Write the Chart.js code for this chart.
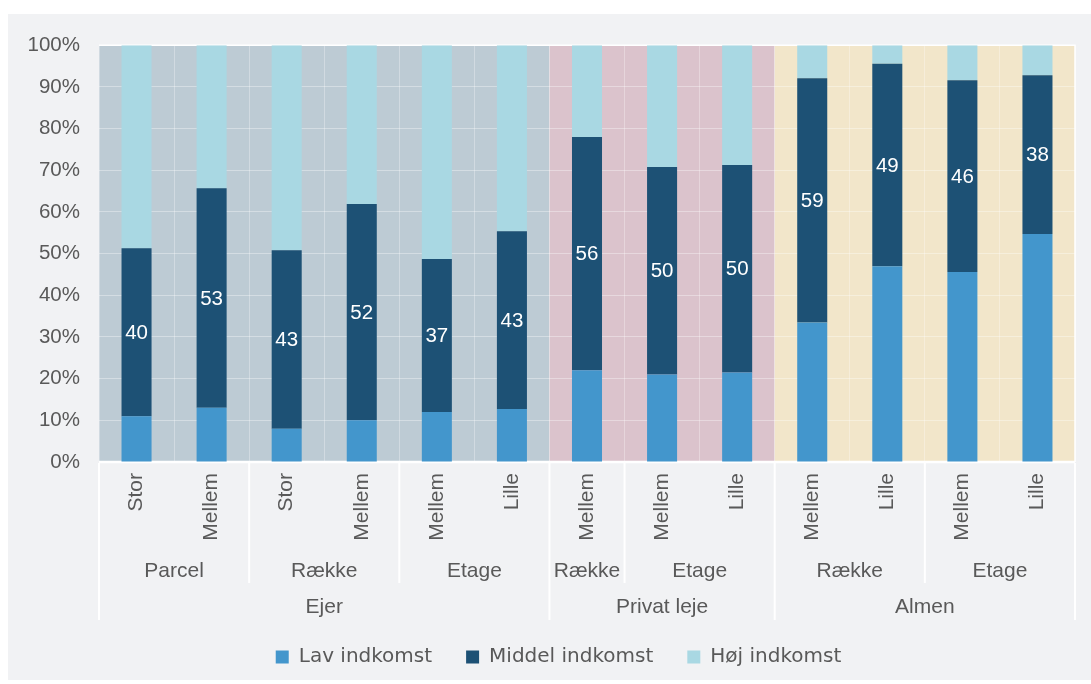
<!DOCTYPE html>
<html>
<head>
<meta charset="utf-8">
<script src="https://cdn.jsdelivr.net/npm/chart.js@4.4.0/dist/chart.umd.min.js"></script>
<style>
	html, body { margin: 0; padding: 0; background: #ffffff; }
	#panel { position: absolute; left: 8px; top: 14px; width: 1083px; height: 666px; background: #f1f2f4; }
</style>
</head>
<body>
<div id="panel"><canvas id="graficoIndkomst" width="1083" height="666"></canvas></div>
<script>
// Kategorier (nederste niveau) og grupper
const etiketter = ["Stor", "Mellem", "Stor", "Mellem", "Mellem", "Lille", "Mellem", "Mellem", "Lille", "Mellem", "Lille", "Mellem", "Lille"];
const boligtyper = ["Parcel", "Række", "Etage", "Række", "Etage", "Række", "Etage"];
const boligtypeAntal = [2, 2, 2, 1, 2, 2, 2];
const ejerformer = ["Ejer", "Privat leje", "Almen"];
const ejerformAntal = [6, 3, 4];

// Andele i procent
const lavIndkomst    = [11, 13, 8, 10, 12, 12.7, 22, 21, 21.5, 33.5, 47, 45.6, 54.7];
const middelIndkomst = [40.3, 52.7, 42.8, 51.9, 36.7, 42.7, 56, 49.8, 49.8, 58.6, 48.6, 46, 38.1];
const hojIndkomst    = [48.7, 34.3, 49.2, 38.1, 51.3, 44.6, 22, 29.2, 28.7, 7.9, 4.4, 8.4, 7.2];

const yTicks = [0, 10, 20, 30, 40, 50, 60, 70, 80, 90, 100];

const farveBaggrund = ["#bdcbd4", "#dbc3cc", "#f2e6ca"];
const tekstFarve = "#595959";
const skrift = "'Liberation Sans', Arial, sans-serif";

// Tegner farvede baggrundsfelter pr. ejerform
const baggrundPlugin = {
	id: "baggrund",
	afterLayout: function(chart){
		// forskyder legenden lidt mod højre, som i originalen
		chart.legend.left += 17;
		chart.legend.right += 17;
	},
	beforeDraw: function(chart){
		const ctx = chart.ctx;
		const ca = chart.chartArea;
		const bredde = (ca.right - ca.left) / etiketter.length;
		let start = 0;
		ejerformAntal.forEach((antal, i) => {
			ctx.fillStyle = farveBaggrund[i];
			ctx.fillRect(ca.left + start * bredde, ca.top, antal * bredde, ca.bottom - ca.top);
			start += antal;
		});
	},
	beforeDatasetsDraw: function(chart){
		const ctx = chart.ctx;
		const ca = chart.chartArea;
		ctx.save();
		ctx.strokeStyle = "#ffffff";
		ctx.lineWidth = 1.5;
		ctx.beginPath();
		ctx.moveTo(ca.left, ca.top);
		ctx.lineTo(ca.right, ca.top);
		ctx.lineTo(ca.right, ca.bottom);
		ctx.stroke();
		ctx.lineWidth = 2.5;
		ctx.beginPath();
		ctx.moveTo(ca.left, ca.bottom);
		ctx.lineTo(ca.right, ca.bottom);
		ctx.stroke();
		ctx.restore();
	}
};

// Tal i midten af middelindkomst-søjlerne
const vaerdiPlugin = {
	id: "vaerdier",
	afterDatasetsDraw: function(chart){
		const ctx = chart.ctx;
		const meta = chart.getDatasetMeta(1);
		ctx.save();
		ctx.fillStyle = "#ffffff";
		ctx.font = "20.5px " + skrift;
		ctx.textAlign = "center";
		ctx.textBaseline = "middle";
		meta.data.forEach((bar, i) => {
			ctx.fillText(String(Math.round(middelIndkomst[i])), bar.x, (bar.y + bar.base) / 2 + 1);
		});
		ctx.restore();
	}
};

// Gruppe-etiketter under x-aksen
const grupperPlugin = {
	id: "grupper",
	afterDraw: function(chart){
		const ctx = chart.ctx;
		const ca = chart.chartArea;
		const bredde = (ca.right - ca.left) / etiketter.length;
		const yKort = 569, yLang = 606;
		const yNiveau1 = 557, yNiveau2 = 593;

		let langeGraenser = [0];
		let sum = 0;
		ejerformAntal.forEach(antal => { sum += antal; langeGraenser.push(sum); });

		ctx.save();
		ctx.strokeStyle = "#ffffff";
		ctx.lineWidth = 2;

		let graenser = [0];
		sum = 0;
		boligtypeAntal.forEach(antal => { sum += antal; graenser.push(sum); });
		graenser.forEach(g => {
			const x = ca.left + g * bredde;
			const lang = langeGraenser.indexOf(g) !== -1;
			ctx.beginPath();
			ctx.moveTo(x, ca.bottom + 1);
			ctx.lineTo(x, lang ? yLang : yKort);
			ctx.stroke();
		});

		ctx.fillStyle = tekstFarve;
		ctx.font = "21px " + skrift;
		ctx.textAlign = "center";
		ctx.textBaseline = "middle";

		let start = 0;
		boligtypeAntal.forEach((antal, i) => {
			ctx.fillText(boligtyper[i], ca.left + (start + antal / 2) * bredde, yNiveau1);
			start += antal;
		});
		start = 0;
		ejerformAntal.forEach((antal, i) => {
			ctx.fillText(ejerformer[i], ca.left + (start + antal / 2) * bredde, yNiveau2);
			start += antal;
		});
		ctx.restore();
	}
};

new Chart("graficoIndkomst", {
	type: "bar",
	data: {
		labels: etiketter,
		datasets: [
			{ label: "Lav indkomst", data: lavIndkomst, backgroundColor: "#4396cc" },
			{ label: "Middel indkomst", data: middelIndkomst, backgroundColor: "#1d5175" },
			{ label: "Høj indkomst", data: hojIndkomst, backgroundColor: "#a9d8e3" }
		]
	},
	options: {
		responsive: false,
		animation: false,
		layout: { padding: { left: 0, right: 16, top: 27, bottom: 3 } },
		datasets: { bar: { categoryPercentage: 1, barPercentage: 0.4, borderWidth: 0 } },
		scales: {
			x: {
				stacked: true,
				border: { display: false },
				grid: { offset: true, color: "rgba(255,255,255,0.3)", lineWidth: 1, drawTicks: false },
				ticks: {
					color: tekstFarve,
					font: { family: skrift, size: 21 },
					minRotation: 90,
					maxRotation: 90,
					padding: 11
				},
				afterFit: function(akse){ akse.height = 151; }
			},
			y: {
				stacked: true,
				min: 0,
				max: 100,
				border: { display: false },
				grid: { color: "rgba(255,255,255,0.35)", lineWidth: 1, drawTicks: false },
				afterBuildTicks: function(akse){ akse.ticks = yTicks.map(v => ({ value: v })); },
				ticks: {
					color: tekstFarve,
					font: { family: skrift, size: 20.5 },
					padding: 19,
					callback: function(v){ return v + "%"; }
				},
				afterFit: function(akse){ akse.width = 91; }
			}
		},
		plugins: {
			legend: {
				position: "bottom",
				labels: {
					boxWidth: 13,
					boxHeight: 13,
					padding: 34,
					color: tekstFarve,
					font: { family: "'DejaVu Sans', sans-serif", size: 20 }
				}
			},
			tooltip: { enabled: false }
		}
	},
	plugins: [baggrundPlugin, vaerdiPlugin, grupperPlugin]
});
</script>
</body>
</html>
